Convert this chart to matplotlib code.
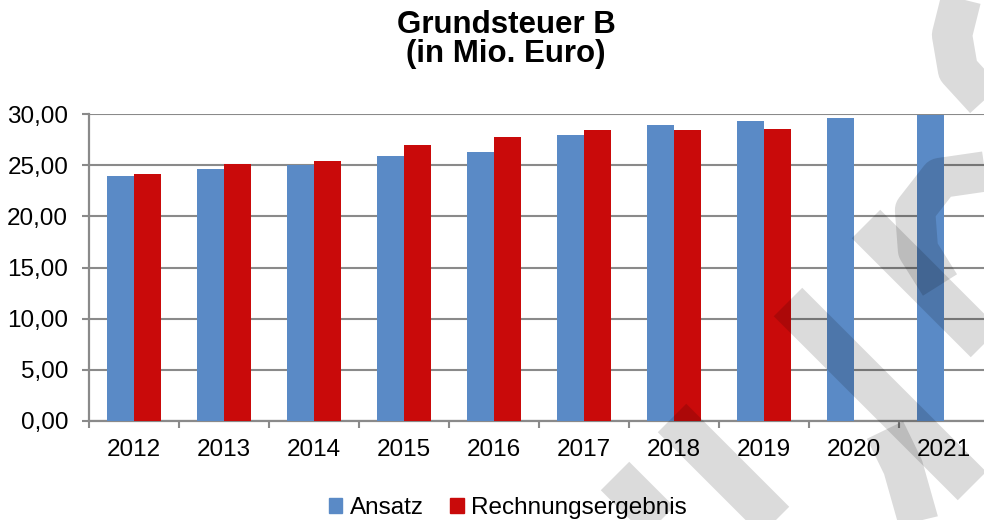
import matplotlib
matplotlib.use('Agg')
import matplotlib.pyplot as plt
import numpy as np
from matplotlib.patches import Patch
from matplotlib.lines import Line2D
from matplotlib.ticker import FuncFormatter, MultipleLocator

plt.rcParams['font.family'] = ['Liberation Sans', 'DejaVu Sans']

jahre = ['2012', '2013', '2014', '2015', '2016', '2017', '2018', '2019', '2020', '2021']
ansatz = [23.95, 24.6, 25.05, 25.85, 26.3, 27.9, 28.95, 29.3, 29.65, 29.95]
ergebnis = [24.1, 25.15, 25.4, 26.95, 27.75, 28.4, 28.4, 28.5, np.nan, np.nan]

blau = '#5A8AC6'
rot = '#C90A0A'
grau = '#8A8A8A'

W, H = 984, 520
fig = plt.figure(figsize=(W / 100, H / 100), dpi=100)
ax = fig.add_axes([89 / W, 99 / H, 900 / W, 307 / H])

x = np.arange(len(jahre))
ax.bar(x - 0.15, ansatz, width=0.3, color=blau, zorder=3)
ax.bar(x + 0.15, ergebnis, width=0.3, color=rot, zorder=3)

ax.set_xlim(-0.5, len(jahre) - 0.5)
ax.set_ylim(0, 30)
ax.yaxis.set_major_locator(MultipleLocator(5))
ax.yaxis.set_major_formatter(FuncFormatter(lambda v, p: f'{v:.2f}'.replace('.', ',')))
ax.set_xticks(x)
ax.set_xticklabels(jahre)
ax.set_xticks(np.arange(-0.5, len(jahre)), minor=True)

ax.grid(axis='y', color=grau, linewidth=1.5, zorder=0)
ax.set_axisbelow(True)
for s in ['top', 'right']:
    ax.spines[s].set_visible(False)
for s in ['left', 'bottom']:
    ax.spines[s].set_color(grau)
    ax.spines[s].set_linewidth(1.6)

ax.tick_params(axis='x', which='major', length=0, pad=13, labelsize=17.5)
ax.tick_params(axis='x', which='minor', length=5, width=1.5, color=grau)
ax.tick_params(axis='y', length=5, width=1.5, color=grau, pad=10, labelsize=17.5)

fig.text(506 / W, 1 - 33 / H, 'Grundsteuer B', ha='center', va='baseline',
         fontsize=22.5, fontweight='bold')
fig.text(506 / W, 1 - 62 / H, '(in Mio. Euro)', ha='center', va='baseline',
         fontsize=22.5, fontweight='bold')

handles = [Patch(color=blau, label='Ansatz'), Patch(color=rot, label='Rechnungsergebnis')]
fig.legend(handles=handles, loc='center', bbox_to_anchor=(508 / W, 12 / H), ncol=2,
           frameon=False, fontsize=17.5, handlelength=0.55, handleheight=0.55,
           handletextpad=0.3, columnspacing=1.1)

# Wasserzeichen (halbtransparente Striche)
striche = [
    ([615, 720], [476, 581]),
    ([672, 820], [418, 566]),
    ([788, 972], [302, 486]),
    ([866, 1010], [224, 368]),
    ([885, 903, 918, 924], [430, 467, 520, 545]),
    ([962, 952, 958, 990], [-5, 35, 70, 105]),
    ([995, 940, 915, 918, 940], [170, 178, 210, 250, 285]),
]
for xs, ys in striche:
    fig.add_artist(Line2D(np.array(xs) / W, 1 - np.array(ys) / H, transform=fig.transFigure,
                          color='black', alpha=0.14, linewidth=29,
                          solid_capstyle='butt', solid_joinstyle='round'))

fig.savefig('out.png', dpi=100)
